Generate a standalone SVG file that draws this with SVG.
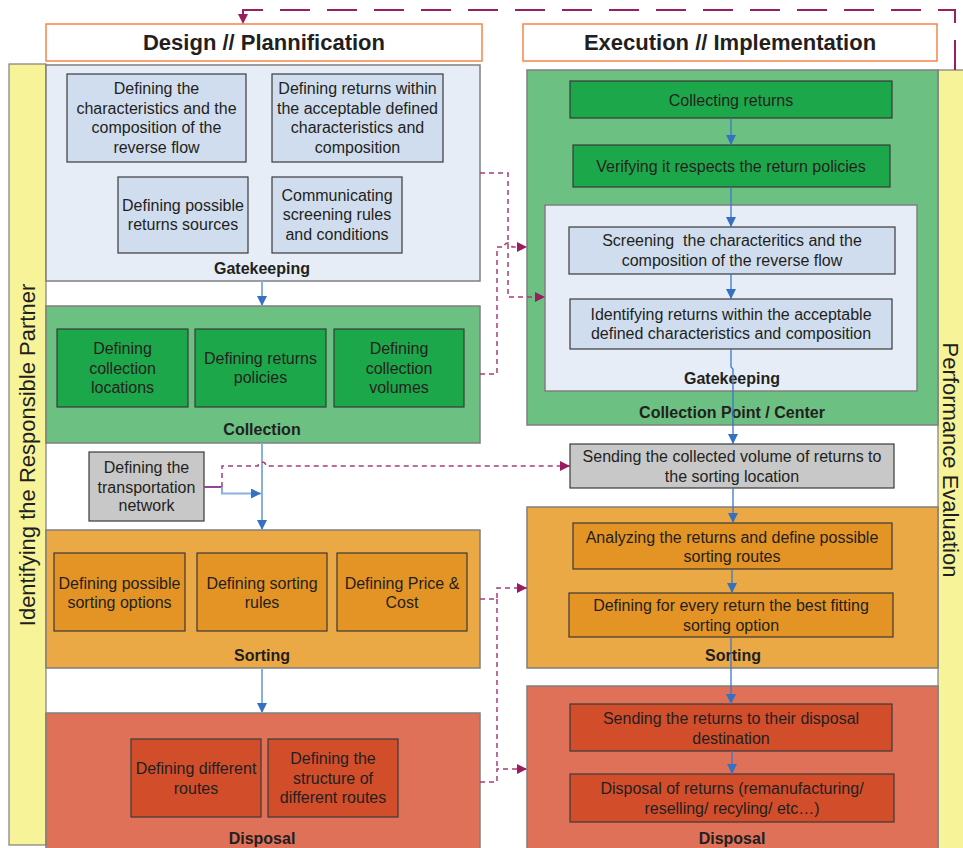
<svg xmlns="http://www.w3.org/2000/svg" width="963" height="848" viewBox="0 0 963 848">
<style>
text{font-family:"Liberation Sans",Arial,sans-serif;fill:#231f20;text-anchor:middle}
.t{font-size:16px}
.b{font-size:16px;font-weight:bold}
.h{font-size:22px;font-weight:bold}
.side{font-size:22px}
.hdr{fill:#fff;stroke:#f6844a;stroke-width:1.5}
.panel{stroke:#7f7f7f;stroke-width:1.5}
.box{stroke:#3a3a3a;stroke-width:1.2}
.pb{fill:#e6edf7}.bb{fill:#d0ddee}
.pg{fill:#6cc081}.bg{fill:#1ca84a}
.po{fill:#eaa945}.bo{fill:#e39425}
.pr{fill:#df7159}.br{fill:#d24e2b}
.gr{fill:#c8c8c9}
.yel{fill:#f7f399;stroke:#7f7f7f;stroke-width:1.2}
.bl{fill:none;stroke:#8ab0e0;stroke-width:2}
.br2{fill:none;stroke:#3c78c8;stroke-width:1.3}
.pd{fill:none;stroke:#a83c78;stroke-width:1.5;stroke-dasharray:5,4}
.top{fill:none;stroke:#9b1f60;stroke-width:2;stroke-dasharray:30,17}
</style>
<defs>
<marker id="ab" viewBox="0 0 10 10" refX="10" refY="5" markerWidth="10" markerHeight="10" markerUnits="userSpaceOnUse" orient="auto"><path d="M0,0 L10,5 L0,10 z" fill="#3670c0"/></marker>
<marker id="ap" viewBox="0 0 10 10" refX="10" refY="5" markerWidth="11" markerHeight="10" markerUnits="userSpaceOnUse" orient="auto"><path d="M0,0 L10,5 L0,10 z" fill="#9b1b5f"/></marker>
</defs>

<g id="side-bars">
<rect class="yel" x="9" y="64" width="37" height="781"/>
<text class="side" transform="translate(35,455) rotate(-90)">Identifying the Responsible Partner</text>
<rect class="yel" x="938" y="70" width="30" height="780"/>
<text class="side" transform="translate(943,460) rotate(90)">Performance Evaluation</text>
</g>

<g id="headers">
<rect class="hdr" x="46" y="24" width="436" height="37"/>
<text class="h" x="264" y="50">Design // Plannification</text>
<rect class="hdr" x="523" y="24" width="414" height="37"/>
<text class="h" x="730" y="50">Execution // Implementation</text>
</g>

<!-- Left column -->
<g id="design-gatekeeping">
<rect class="panel pb" x="46" y="65" width="434" height="216"/>
<text class="b" x="262" y="274">Gatekeeping</text>
</g>
<g id="d-gk-1"><rect class="box bb" x="67" y="74" width="179" height="88"/>
<text class="t" x="156.5"><tspan x="156.5" y="94">Defining the</tspan><tspan x="156.5" y="113.5">characteristics and the</tspan><tspan x="156.5" y="133">composition of the</tspan><tspan x="156.5" y="152.5">reverse flow</tspan></text></g>
<g id="d-gk-2"><rect class="box bb" x="272" y="74" width="171" height="88"/>
<text class="t"><tspan x="357.5" y="94">Defining returns within</tspan><tspan x="357.5" y="113.5">the acceptable defined</tspan><tspan x="357.5" y="133">characteristics and</tspan><tspan x="357.5" y="152.5">composition</tspan></text></g>
<g id="d-gk-3"><rect class="box bb" x="118" y="177" width="130" height="76"/>
<text class="t"><tspan x="183" y="211">Defining possible</tspan><tspan x="183" y="230">returns sources</tspan></text></g>
<g id="d-gk-4"><rect class="box bb" x="272" y="177" width="130" height="76"/>
<text class="t"><tspan x="337" y="201">Communicating</tspan><tspan x="337" y="220">screening rules</tspan><tspan x="337" y="240">and conditions</tspan></text></g>

<g id="design-collection">
<rect class="panel pg" x="46" y="306" width="434" height="137"/>
<text class="b" x="262" y="435">Collection</text>
</g>
<g id="d-col-1"><rect class="box bg" x="57" y="329" width="131" height="78"/>
<text class="t"><tspan x="122.5" y="354">Defining</tspan><tspan x="122.5" y="373.5">collection</tspan><tspan x="122.5" y="393">locations</tspan></text></g>
<g id="d-col-2"><rect class="box bg" x="195" y="329" width="131" height="78"/>
<text class="t"><tspan x="260.5" y="364">Defining returns</tspan><tspan x="260.5" y="383">policies</tspan></text></g>
<g id="d-col-3"><rect class="box bg" x="334" y="329" width="130" height="78"/>
<text class="t"><tspan x="399" y="354">Defining</tspan><tspan x="399" y="373.5">collection</tspan><tspan x="399" y="393">volumes</tspan></text></g>

<g id="d-transport"><rect class="box gr" x="89" y="452" width="115" height="69"/>
<text class="t"><tspan x="146.5" y="472.5">Defining the</tspan><tspan x="146.5" y="492.5">transportation</tspan><tspan x="146.5" y="511">network</tspan></text></g>

<g id="design-sorting">
<rect class="panel po" x="46" y="530" width="434" height="138"/>
<text class="b" x="262" y="661">Sorting</text>
</g>
<g id="d-sort-1"><rect class="box bo" x="54" y="553" width="131" height="78"/>
<text class="t"><tspan x="119.5" y="588.5">Defining possible</tspan><tspan x="119.5" y="607.5">sorting options</tspan></text></g>
<g id="d-sort-2"><rect class="box bo" x="197" y="553" width="130" height="78"/>
<text class="t"><tspan x="262" y="588.5">Defining sorting</tspan><tspan x="262" y="607.5">rules</tspan></text></g>
<g id="d-sort-3"><rect class="box bo" x="337" y="553" width="130" height="78"/>
<text class="t"><tspan x="402" y="588.5">Defining Price &amp;</tspan><tspan x="402" y="607.5">Cost</tspan></text></g>

<g id="design-disposal">
<rect class="panel pr" x="46" y="713" width="434" height="140"/>
<text class="b" x="262" y="843.5">Disposal</text>
</g>
<g id="d-disp-1"><rect class="box br" x="131" y="739" width="130" height="78"/>
<text class="t"><tspan x="196" y="773.5">Defining different</tspan><tspan x="196" y="793.5">routes</tspan></text></g>
<g id="d-disp-2"><rect class="box br" x="268" y="739" width="130" height="78"/>
<text class="t"><tspan x="333" y="763.5">Defining the</tspan><tspan x="333" y="783.5">structure of</tspan><tspan x="333" y="802.5">different routes</tspan></text></g>

<!-- Right column -->
<g id="collection-point">
<rect class="panel pg" x="527" y="70" width="411" height="355"/>
<text class="b" x="732" y="417.5">Collection Point / Center</text>
</g>
<g id="e-collecting"><rect class="box bg" x="570" y="81" width="322" height="37"/>
<text class="t" x="731" y="105.5">Collecting returns</text></g>
<g id="e-verifying"><rect class="box bg" x="573" y="145" width="317" height="42"/>
<text class="t" x="731" y="171.5">Verifying it respects the return policies</text></g>
<g id="exec-gatekeeping">
<rect class="panel pb" x="545" y="205" width="372" height="186"/>
<text class="b" x="732" y="384">Gatekeeping</text>
</g>
<g id="e-screening"><rect class="box bb" x="569" y="227" width="326" height="47"/>
<text class="t" style="white-space:pre"><tspan x="732" y="245.5">Screening  the characteritics and the</tspan><tspan x="732" y="265.5">composition of the reverse flow</tspan></text></g>
<g id="e-identifying"><rect class="box bb" x="570" y="299" width="322" height="50"/>
<text class="t"><tspan x="731" y="319.5">Identifying returns within the acceptable</tspan><tspan x="731" y="338.5">defined characteristics and composition</tspan></text></g>

<g id="e-sending"><rect class="box gr" x="570" y="444" width="324" height="44"/>
<text class="t"><tspan x="732" y="462">Sending the collected volume of returns to</tspan><tspan x="732" y="481.5">the sorting location</tspan></text></g>

<g id="exec-sorting">
<rect class="panel po" x="527" y="507" width="411" height="161"/>
<text class="b" x="733" y="661">Sorting</text>
</g>
<g id="e-analyzing"><rect class="box bo" x="573" y="523" width="319" height="46"/>
<text class="t"><tspan x="732" y="542.5">Analyzing the returns and define possible</tspan><tspan x="732" y="561.5">sorting routes</tspan></text></g>
<g id="e-bestfit"><rect class="box bo" x="569" y="593" width="324" height="44"/>
<text class="t"><tspan x="731" y="610.5">Defining for every return the best fitting</tspan><tspan x="731" y="630.5">sorting option</tspan></text></g>

<g id="exec-disposal">
<rect class="panel pr" x="527" y="686" width="411" height="167"/>
<text class="b" x="732" y="843.5">Disposal</text>
</g>
<g id="e-send-disp"><rect class="box br" x="570" y="704" width="322" height="47"/>
<text class="t"><tspan x="731" y="723.5">Sending the returns to their disposal</tspan><tspan x="731" y="743.5">destination</tspan></text></g>
<g id="e-disp-returns"><rect class="box br" x="570" y="774" width="324" height="48"/>
<text class="t"><tspan x="732" y="793.5">Disposal of returns (remanufacturing/</tspan><tspan x="732" y="813.5">reselling/ recyling/ etc…)</tspan></text></g>

<g id="connectors">
<!-- left blue flow -->
<path class="bl" d="M262,281 V306" marker-end="url(#ab)"/>
<path class="bl" d="M262,443 V530" marker-end="url(#ab)"/>
<path class="bl" d="M262,668 V713" marker-end="url(#ab)"/>
<path d="M204,487 H222" fill="none" stroke="#8e4a8e" stroke-width="2"/>
<path class="bl" d="M222,487 V493.5 H261" stroke="#6f9fd8" marker-end="url(#ab)"/>
<!-- right blue flow -->
<path class="br2" d="M731,118 V145" marker-end="url(#ab)"/>
<path class="br2" d="M731,187 V227" marker-end="url(#ab)"/>
<path class="br2" d="M731,274 V299" marker-end="url(#ab)"/>
<path class="br2" d="M731,349 V367 L733,369 V444" marker-end="url(#ab)"/>
<path class="br2" d="M733,488 V523" marker-end="url(#ab)"/>
<path class="br2" d="M732,569 V593" marker-end="url(#ab)"/>
<path class="br2" d="M731,637 V704" marker-end="url(#ab)"/>
<path class="br2" d="M732,751 V774" marker-end="url(#ab)"/>
<!-- dashed purple links -->
<path class="pd" d="M480,173 H508 V297 H545" marker-end="url(#ap)"/>
<path class="pd" d="M480,374 H497 V247 H504 a4,4 0 0 1 8,0 H527" marker-end="url(#ap)"/>
<path class="pd" d="M222,487 V466 H258 a4,4 0 0 1 8,0 H570" marker-end="url(#ap)"/>
<path class="pd" d="M480,599 H497 V588 H527" marker-end="url(#ap)"/>
<path class="pd" d="M480,782 H497 V769 H527" marker-end="url(#ap)"/>
<path class="pd" d="M497,599 V769"/>
<path class="top" d="M955,70 V10 H243 V24" marker-end="url(#ap)"/>
</g>
</svg>
